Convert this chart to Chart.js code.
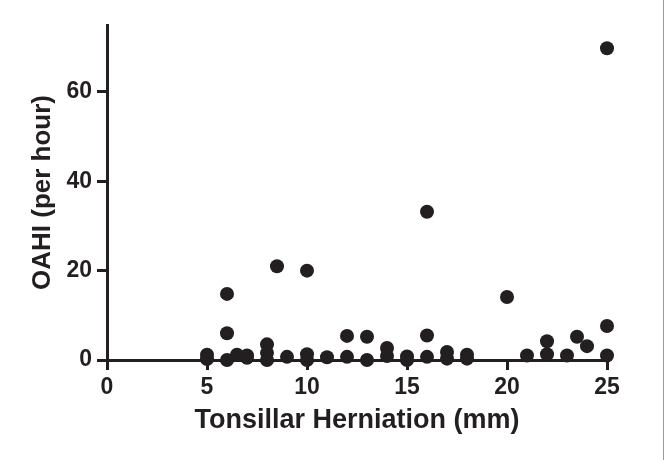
<!DOCTYPE html>
<html>
<head>
<meta charset="utf-8">
<script src="https://cdn.jsdelivr.net/npm/chart.js@4/dist/chart.umd.min.js"></script>
<style>
  html, body { margin: 0; padding: 0; background: #fff; }
  #wrap { width: 663px; height: 460px; border-right: 1px solid #9a9a9a; }
</style>
</head>
<body>
<div id="wrap"><canvas id="chart" width="663" height="460"></canvas></div>
<script>
// tonsillar herniation (mm) vs OAHI (per hour), one entry per patient
const herniationMm = [
  5, 5,
  6, 6, 6, 6.5,
  7, 7,
  8, 8, 8, 8.5, 9,
  10, 10, 10, 11,
  12, 12, 13, 13, 14, 14,
  15, 15, 16, 16, 16,
  17, 17, 18, 18,
  20, 21, 22, 22, 23, 23.5, 24,
  25, 25, 25
];
const oahiPerHour = [
  1.2, 0.2,
  14.8, 6.0, 0.0, 1.2,
  0.5, 1.0,
  3.5, 1.6, 0.0, 21.0, 0.7,
  20.0, 1.3, 0.0, 0.6,
  5.4, 0.7, 5.2, 0.0, 2.7, 0.9,
  0.8, 0.0, 33.2, 5.5, 0.7,
  1.8, 0.3, 1.2, 0.3,
  14.1, 1.0, 4.2, 1.3, 1.0, 5.2, 3.1,
  69.8, 7.6, 1.0
];
const xTicks = [0, 5, 10, 15, 20, 25];
const yTicks = [0, 20, 40, 60];

const ink = '#231f20';
const fontFamily = '"Liberation Sans", Arial, Helvetica, sans-serif';

const points = herniationMm.map((x, i) => ({ x: x, y: oahiPerHour[i] }));

new Chart(document.getElementById('chart'), {
  type: 'scatter',
  data: {
    datasets: [{
      data: points,
      pointRadius: 7,
      pointHoverRadius: 7,
      pointBackgroundColor: ink,
      pointBorderColor: ink,
      pointBorderWidth: 0,
      clip: false
    }]
  },
  options: {
    responsive: false,
    animation: false,
    events: [],
    layout: { padding: { left: 0, right: 56, top: 25, bottom: 0 } },
    plugins: { legend: { display: false }, tooltip: { enabled: false } },
    scales: {
      x: {
        type: 'linear',
        min: 0,
        max: 25,
        afterBuildTicks: axis => { axis.ticks = xTicks.map(v => ({ value: v })); },
        afterFit: axis => { axis.height = 100; },
        grid: { drawOnChartArea: false, tickLength: 10, tickWidth: 3, tickColor: ink },
        border: { display: true, width: 3, color: ink },
        ticks: {
          color: ink,
          padding: 4,
          maxRotation: 0,
          font: { family: fontFamily, size: 23, weight: 'bold' }
        },
        title: {
          display: true,
          text: 'Tonsillar Herniation (mm)',
          color: ink,
          padding: { top: 23, bottom: 23 },
          font: { family: fontFamily, size: 27, weight: 'bold' }
        }
      },
      y: {
        type: 'linear',
        min: 0,
        max: 75,
        afterBuildTicks: axis => { axis.ticks = yTicks.map(v => ({ value: v })); },
        afterFit: axis => { axis.width = 107; },
        grid: { drawOnChartArea: false, tickLength: 10, tickWidth: 3, tickColor: ink },
        border: { display: true, width: 3, color: ink },
        ticks: {
          color: ink,
          padding: 5,
          font: { family: fontFamily, size: 23, weight: 'bold' }
        },
        title: {
          display: true,
          text: 'OAHI (per hour)',
          color: ink,
          padding: { top: 27, bottom: 27 },
          font: { family: fontFamily, size: 26, weight: 'bold' }
        }
      }
    }
  }
});
</script>
</body>
</html>
